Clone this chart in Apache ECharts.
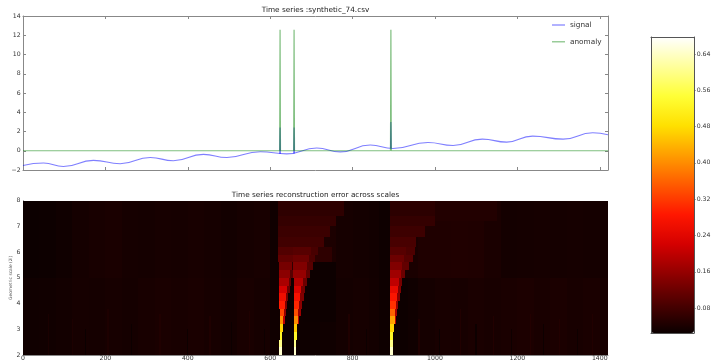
<!DOCTYPE html>
<html>
<head>
<meta charset="utf-8">
<script src="https://cdn.jsdelivr.net/npm/echarts@6/dist/echarts.min.js"></script>
<style>
html, body { margin: 0; padding: 0; background: #fff; }
#chart { width: 711px; height: 362px; }
</style>
</head>
<body>
<div id="chart"></div>
<script>
// ---- data ----
const xMax = 1420;
const xTicks = [0, 200, 400, 600, 800, 1000, 1200, 1400];

// signal wave: sample index / value at peaks and troughs
const sigT = [0, 50, 98, 171, 236, 309, 365, 438, 495, 576, 640, 713, 770, 843, 898, 983, 1044, 1115, 1174, 1237, 1311, 1383, 1420];
const sigV = [-1.53, -1.28, -1.63, -1.0, -1.35, -0.70, -1.04, -0.38, -0.70, -0.10, -0.32, 0.28, -0.12, 0.59, 0.24, 0.86, 0.55, 1.21, 0.90, 1.52, 1.21, 1.87, 1.66];

// anomalies
const anomalyT = [624, 658, 893];
const anomalyV = 12.57;
const spikeBase = [-0.31, -0.28, 0.25];
const spikeTop = [2.42, 2.42, 2.98];

// reconstruction error, background columns of 40 samples
const binSize = 40;
const bgLow = [0.030, 0.031, 0.033, 0.036, 0.035, 0.037, 0.035, 0.038, 0.040, 0.038, 0.040, 0.037,
  0.034, 0.039, 0.036, 0.030, 0.028, 0.028, 0.030, 0.034, 0.036, 0.033, 0.028, 0.030,
  0.035, 0.038, 0.037, 0.040, 0.038, 0.040, 0.042, 0.039, 0.041, 0.038, 0.040, 0.037];
const bgHigh = [0.026, 0.027, 0.030, 0.035, 0.038, 0.040, 0.036, 0.035, 0.037, 0.036, 0.038, 0.036,
  0.033, 0.036, 0.038, 0.034, 0.060, 0.050, 0.042, 0.036, 0.034, 0.032, 0.030, 0.040,
  0.045, 0.045, 0.046, 0.045, 0.040, 0.034, 0.035, 0.036, 0.035, 0.036, 0.035, 0.034];
const bandSplit = 5;

// thin stripes near the smallest scales: [x0, x1, scale0, scale1, error]
const stripeCells = [
  [60, 64, 2, 3.6, 0.040], [118, 122, 2, 3.4, 0.042], [150, 153, 2, 3.0, 0.024], [205, 209, 2, 3.8, 0.043],
  [262, 265, 2, 3.2, 0.026], [330, 334, 2, 3.6, 0.046], [398, 401, 2, 3.0, 0.027], [452, 456, 2, 3.5, 0.045],
  [505, 508, 2, 3.3, 0.026], [548, 552, 2, 3.7, 0.046], [585, 588, 2, 3.0, 0.028],
  [790, 794, 2, 3.6, 0.045], [832, 835, 2, 3.0, 0.027], [960, 964, 2, 3.4, 0.045], [1010, 1013, 2, 3.0, 0.026],
  [1060, 1064, 2, 3.8, 0.047], [1098, 1101, 2, 3.2, 0.027], [1140, 1144, 2, 3.5, 0.048], [1185, 1188, 2, 3.0, 0.028],
  [1230, 1234, 2, 3.6, 0.049], [1262, 1265, 2, 3.2, 0.027], [1300, 1304, 2, 3.4, 0.048], [1345, 1348, 2, 3.0, 0.028],
  [1380, 1384, 2, 3.6, 0.047]
];

// halos and shadows: [x0, x1, scale0, scale1, error]
const haloCells = [
  [600, 622, 5, 8, 0.030],
  [620, 780, 7.4, 8, 0.060],
  [620, 760, 7.0, 7.4, 0.066],
  [620, 745, 6.6, 7.0, 0.072],
  [620, 730, 6.2, 6.6, 0.078],
  [700, 750, 5.6, 6.2, 0.060],
  [890, 1030, 7.4, 8, 0.058],
  [890, 1000, 7.0, 7.4, 0.066],
  [890, 975, 6.6, 7.0, 0.074],
  [891, 955, 6.2, 6.6, 0.085],
  [1000, 1150, 7.2, 8, 0.048],
  [630, 656, 2, 4.0, 0.026],
  [680, 760, 3.3, 5.6, 0.027],
  [903, 935, 2, 5.0, 0.027],
  [865, 891, 2, 8, 0.028]
];

// plumes under the three anomalies: [x0, x1, scale0, scale1, error]
const plumeCells = [
  // anomaly 1
  [622.5, 628.5, 2.0, 2.3, 0.645], [622.5, 628.5, 2.3, 2.6, 0.60], [623, 629.5, 2.6, 2.9, 0.53],
  [623, 630.5, 2.9, 3.2, 0.47],
  [630, 635, 3.2, 3.5, 0.20], [623, 632, 3.2, 3.5, 0.40],
  [632, 638, 3.5, 3.8, 0.16], [623, 634, 3.5, 3.8, 0.33],
  [634, 641, 3.8, 4.1, 0.14], [622, 636, 3.8, 4.1, 0.29],
  [636, 644, 4.1, 4.4, 0.13], [622, 638, 4.1, 4.4, 0.26],
  [638, 647, 4.4, 4.7, 0.12], [622, 641, 4.4, 4.7, 0.22],
  [642, 651, 4.7, 5.0, 0.11], [622, 645, 4.7, 5.0, 0.18],
  [646, 655, 5.0, 5.3, 0.10], [622, 648, 5.0, 5.3, 0.15],
  [621, 654, 5.3, 5.6, 0.13], [620, 657, 5.6, 5.9, 0.11], [620, 660, 5.9, 6.2, 0.095],
  // anomaly 2
  [657, 663.5, 2.0, 2.3, 0.645], [657, 663.5, 2.3, 2.6, 0.60], [657.5, 665, 2.6, 2.9, 0.53],
  [658, 666, 2.9, 3.2, 0.46],
  [665, 671, 3.2, 3.5, 0.20], [658, 667, 3.2, 3.5, 0.40],
  [667, 674, 3.5, 3.8, 0.17], [658, 668, 3.5, 3.8, 0.34],
  [668, 677, 3.8, 4.1, 0.15], [658, 670, 3.8, 4.1, 0.30],
  [670, 681, 4.1, 4.4, 0.14], [658, 672, 4.1, 4.4, 0.27],
  [673, 685, 4.4, 4.7, 0.13], [658, 675, 4.4, 4.7, 0.23],
  [678, 690, 4.7, 5.0, 0.12], [657, 680, 4.7, 5.0, 0.19],
  [684, 697, 5.0, 5.3, 0.11], [656, 686, 5.0, 5.3, 0.16],
  [688, 703, 5.3, 5.6, 0.10], [655, 690, 5.3, 5.6, 0.14],
  [692, 709, 5.6, 5.9, 0.09], [656, 694, 5.6, 5.9, 0.12],
  [698, 716, 5.9, 6.2, 0.085], [656, 700, 5.9, 6.2, 0.10],
  // anomaly 3
  [892, 897.5, 2.0, 2.3, 0.645], [892, 898, 2.3, 2.6, 0.60], [892, 899, 2.6, 2.9, 0.53],
  [892, 900, 2.9, 3.2, 0.47],
  [900, 905, 3.2, 3.5, 0.20], [892, 902, 3.2, 3.5, 0.42],
  [903, 908, 3.5, 3.8, 0.18], [892, 904, 3.5, 3.8, 0.36],
  [905, 911, 3.8, 4.1, 0.16], [891, 906, 3.8, 4.1, 0.31],
  [907, 914, 4.1, 4.4, 0.15], [891, 908, 4.1, 4.4, 0.28],
  [909, 917, 4.4, 4.7, 0.14], [891, 910, 4.4, 4.7, 0.25],
  [912, 920, 4.7, 5.0, 0.13], [891, 913, 4.7, 5.0, 0.20],
  [916, 927, 5.0, 5.3, 0.12], [891, 917, 5.0, 5.3, 0.17],
  [920, 936, 5.3, 5.6, 0.11], [891, 921, 5.3, 5.6, 0.14],
  [924, 946, 5.6, 5.9, 0.10], [891, 925, 5.6, 5.9, 0.12],
  [930, 952, 5.9, 6.2, 0.09], [891, 930, 5.9, 6.2, 0.10]
];

// colorbar
const cbMin = 0.025;
const cbMax = 0.6775;
const cbTicks = [0.08, 0.16, 0.24, 0.32, 0.40, 0.48, 0.56, 0.64];
// matplotlib "hot"
const hotColors = ['#0b0000', '#4d0000', '#910000', '#d40000', '#ff1700', '#ff5a00',
  '#ff9d00', '#ffe000', '#ffff36', '#ffff9b', '#ffffff'];

// ---- build series data ----
const signalData = sigT.map((t, i) => [t, sigV[i]]);
const spikeData = [];
anomalyT.forEach((t, i) => {
  spikeData.push([t - 1, spikeBase[i]], [t, spikeTop[i]], [t + 1, spikeBase[i]], [t + 1, '-']);
});
const anomalyData = [[0, 0]];
anomalyT.forEach(t => { anomalyData.push([t - 1, 0], [t, anomalyV], [t + 1, 0]); });
anomalyData.push([xMax, 0]);

const cells = [];
bgLow.forEach((v, i) => cells.push([i * binSize, Math.min((i + 1) * binSize, xMax), 2, bandSplit, v]));
bgHigh.forEach((v, i) => cells.push([i * binSize, Math.min((i + 1) * binSize, xMax), bandSplit, 8, v]));
stripeCells.forEach(c => cells.push(c));
haloCells.forEach(c => cells.push(c));
plumeCells.forEach(c => cells.push(c));

const font = 'DejaVu Sans';
const fsTick = 6.2;
const fsText = 7.3;
const ink = '#333';
const frame = '#888';

function minus(v) { return v < 0 ? '\u2212' + (-v) : String(v); }

function renderCell(params, api) {
  const a = api.coord([api.value(0), api.value(3)]);
  const b = api.coord([api.value(1), api.value(2)]);
  const x0 = Math.round(a[0]), y0 = Math.round(a[1]);
  const x1 = Math.max(Math.round(b[0]), x0 + 1), y1 = Math.round(b[1]);
  return {
    type: 'rect',
    shape: { x: x0, y: y0, width: x1 - x0, height: y1 - y0 },
    style: { fill: api.visual('color') }
  };
}

const chart = echarts.init(document.getElementById('chart'));
chart.setOption({
  animation: false,
  textStyle: { fontFamily: font },
  title: [
    { text: 'Time series :synthetic_74.csv', left: 315.5, top: 7, padding: 0, textAlign: 'center',
      textStyle: { fontSize: fsText, fontWeight: 'normal', color: '#222', fontFamily: font } },
    { text: 'Time series reconstruction error across scales', left: 315.5, top: 192, padding: 0, textAlign: 'center',
      textStyle: { fontSize: fsText, fontWeight: 'normal', color: '#222', fontFamily: font } }
  ],
  legend: {
    data: ['signal', 'anomaly'],
    orient: 'vertical',
    left: 552,
    top: 21.5,
    padding: 0,
    itemWidth: 13,
    itemHeight: 1.2,
    itemGap: 9.8,
    icon: 'rect',
    textStyle: { fontSize: fsText, color: ink, fontFamily: font }
  },
  grid: [
    { left: 23, right: 103, top: 16, height: 154, outerBoundsMode: 'none' },
    { left: 23, right: 103, top: 200.7, height: 154.3, outerBoundsMode: 'none' },
    { left: 651, width: 43, top: 37, height: 296, outerBoundsMode: 'none' }
  ],
  xAxis: [
    { gridIndex: 0, type: 'value', min: 0, max: xMax, interval: 200,
      axisLine: { onZero: false, lineStyle: { color: frame } },
      axisTick: { inside: true, length: 3, lineStyle: { color: frame } },
      axisLabel: { show: false }, splitLine: { show: false } },
    { gridIndex: 0, type: 'value', position: 'top', min: 0, max: xMax, interval: 200,
      axisLine: { onZero: false, lineStyle: { color: frame } },
      axisTick: { inside: true, length: 3, lineStyle: { color: frame } },
      axisLabel: { show: false }, splitLine: { show: false } },
    { gridIndex: 1, type: 'value', min: 0, max: xMax, interval: 200,
      axisLine: { onZero: false, lineStyle: { color: frame } }, axisTick: { show: false },
      axisLabel: { fontSize: fsTick, color: ink, margin: 0.5, fontFamily: font,
        formatter: v => (xTicks.indexOf(v) >= 0 ? String(v) : '') },
      splitLine: { show: false } },
    { gridIndex: 2, type: 'value', min: 0, max: 1, z: 10,
      axisLine: { onZero: false, lineStyle: { color: '#555' } }, axisTick: { show: false }, axisLabel: { show: false }, splitLine: { show: false } },
    { gridIndex: 2, type: 'value', position: 'top', min: 0, max: 1, z: 10,
      axisLine: { onZero: false, lineStyle: { color: '#555' } }, axisTick: { show: false }, axisLabel: { show: false }, splitLine: { show: false } }
  ],
  yAxis: [
    { gridIndex: 0, type: 'value', min: -2, max: 14, interval: 2,
      axisLine: { show: true, onZero: false, lineStyle: { color: frame } },
      axisTick: { show: true, inside: true, length: 3, lineStyle: { color: frame } },
      axisLabel: { fontSize: fsTick, color: ink, margin: 2.3, fontFamily: font, formatter: minus },
      splitLine: { show: false } },
    { gridIndex: 0, type: 'value', position: 'right', min: -2, max: 14, interval: 2,
      axisLine: { show: true, onZero: false, lineStyle: { color: frame } },
      axisTick: { show: true, inside: true, length: 3, lineStyle: { color: frame } },
      axisLabel: { show: false }, splitLine: { show: false } },
    { gridIndex: 1, type: 'value', min: 2, max: 8, interval: 1,
      name: 'Geometric scale (2{sup|j})', nameLocation: 'middle', nameGap: 9.5, nameMoveOverlap: false,
      nameTextStyle: { fontSize: 4.4, color: '#555', fontFamily: font,
        rich: { sup: { fontSize: 3.3, verticalAlign: 'top', color: '#555', fontFamily: font, padding: [0, 0, 2, 0] } } },
      axisLine: { show: true, onZero: false, lineStyle: { color: frame } }, axisTick: { show: false },
      axisLabel: { fontSize: fsTick, color: ink, margin: 2.5, fontFamily: font },
      splitLine: { show: false } },
    { gridIndex: 2, type: 'value', position: 'right', min: cbMin, max: cbMax, z: 10,
      axisLine: { show: true, onZero: false, lineStyle: { color: '#555' } },
      axisTick: { show: true, length: 1.5, lineStyle: { color: '#555' }, customValues: cbTicks },
      axisLabel: { fontSize: fsTick, color: ink, margin: 2.7, fontFamily: font, customValues: cbTicks,
        formatter: v => v.toFixed(2) },
      splitLine: { show: false } },
    { gridIndex: 2, type: 'value', position: 'left', min: cbMin, max: cbMax, z: 10,
      axisLine: { show: true, onZero: false, lineStyle: { color: '#555' } }, axisTick: { show: false }, axisLabel: { show: false }, splitLine: { show: false } }
  ],
  visualMap: {
    type: 'continuous',
    min: cbMin,
    max: cbMax,
    dimension: 4,
    seriesIndex: 3,
    calculable: false,
    hoverLink: false,
    orient: 'vertical',
    left: 651,
    top: 37,
    itemWidth: 43,
    itemHeight: 296,
    padding: 0,
    text: null,
    inRange: { color: hotColors }
  },
  series: [
    { name: 'signal', type: 'line', xAxisIndex: 0, yAxisIndex: 0, data: signalData, smooth: true,
      symbol: 'none', lineStyle: { color: 'rgba(0,0,255,0.5)', width: 1.1 }, itemStyle: { color: 'rgba(0,0,255,0.5)' } },
    { name: 'signal', type: 'line', xAxisIndex: 0, yAxisIndex: 0, data: spikeData, connectNulls: false,
      symbol: 'none', lineStyle: { color: 'rgba(0,0,255,0.5)', width: 1.1 }, itemStyle: { color: 'rgba(0,0,255,0.5)' } },
    { name: 'anomaly', type: 'line', xAxisIndex: 0, yAxisIndex: 0, data: anomalyData,
      symbol: 'none', lineStyle: { color: 'rgba(0,128,0,0.5)', width: 1.2 }, itemStyle: { color: 'rgba(0,128,0,0.5)' } },
    { name: 'error', type: 'custom', xAxisIndex: 2, yAxisIndex: 2, renderItem: renderCell, clip: true,
      dimensions: ['x0', 'x1', 's0', 's1', 'err'], encode: { x: [0, 1], y: [2, 3] }, data: cells }
  ]
});
</script>
</body>
</html>
